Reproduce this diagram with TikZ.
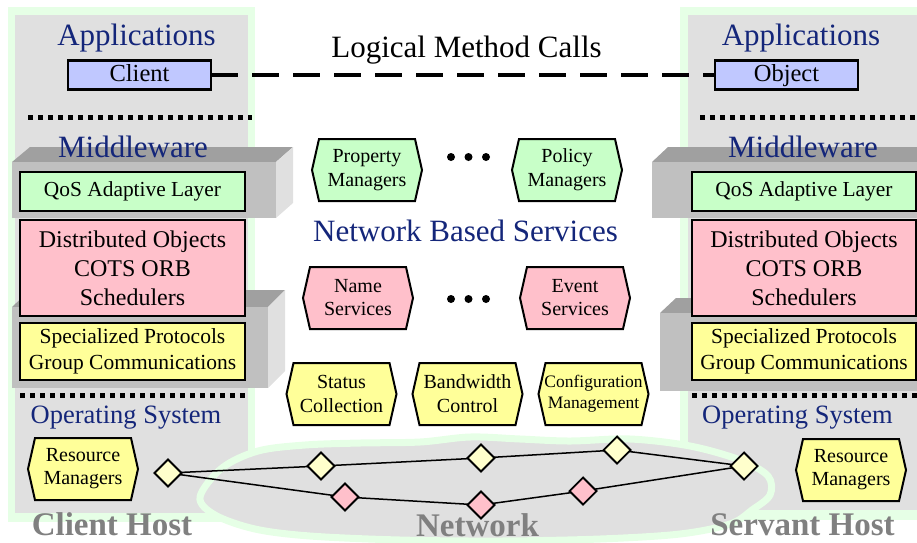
\documentclass[tikz,border=0pt]{standalone}
\usepackage{fontspec}
\setmainfont{Liberation Serif}
\usetikzlibrary{shapes.geometric}

\definecolor{navy}{HTML}{14267A}
\definecolor{panelgreen}{HTML}{E6FFE6}
\definecolor{stipple}{HTML}{E0E0E0}
\definecolor{clientblue}{HTML}{C0C8FF}
\definecolor{qosgreen}{HTML}{C8FFC8}
\definecolor{orbpink}{HTML}{FFC0CB}
\definecolor{protoyellow}{HTML}{FFFF99}
\definecolor{nodeyellow}{HTML}{FFFFCC}
\definecolor{slabtop}{HTML}{A0A0A0}
\definecolor{slabfront}{HTML}{C0C0C0}
\definecolor{slabside}{HTML}{E0E0E0}
\definecolor{hostgray}{HTML}{808080}

\newcommand\fsz[2]{\fontsize{#1}{#2}\selectfont}

% hexagonal service node: name, centre, fill, font, text
\newcommand\hexnode[5]{%
  \node[hexbody] (#1) at (#2) {};
  \filldraw[hexline, fill=#3] (#1.west) -- ([xshift=7pt]#1.north west)
    -- ([xshift=-7pt]#1.north east) -- (#1.east)
    -- ([xshift=-7pt]#1.south east) -- ([xshift=7pt]#1.south west) -- cycle;
  \node[align=center, font=#4] at (#1.center) {#5};}

\begin{document}
\begin{tikzpicture}[x=1pt,y=-1pt,
  every node/.style={inner sep=0pt, outer sep=0pt},
  layerbox/.style={draw=black, line width=2.2pt, align=center},
  appbox/.style={layerbox, fill=clientblue, minimum width=143pt, minimum height=29pt,
    font=\fsz{24.5}{29}, text height=17.5pt, text depth=4.5pt},
  hexbody/.style={minimum width=110pt, minimum height=62pt, inner sep=0pt},
  hexline/.style={draw=black, line width=2pt, line join=miter},
  netnode/.style={diamond, draw=black, line width=1.8pt, minimum width=27pt,
    minimum height=27pt, inner sep=0pt, aspect=1},
  netline/.style={line width=1.5pt},
  dotrule/.style={line width=5pt, dash pattern=on 5pt off 5pt},
  callline/.style={line width=3.5pt, dash pattern=on 27pt off 14pt},
  navylabel/.style={text=navy, anchor=base},
  hostlabel/.style={text=hostgray, anchor=base, font={\bfseries\fsz{33}{33}}},
  dotmark/.style={circle, fill=black, minimum size=8pt, inner sep=0pt},
]
\useasboundingbox (0,0) rectangle (917,542);

% host panels
\fill[panelgreen] (8,7) rectangle (255,522);
\fill[stipple] (15,15) rectangle (248,513);
\fill[panelgreen] (680,7) rectangle (917,520);
\fill[stipple] (688,15) rectangle (917,510);

% network cloud
\draw[panelgreen, line width=7pt, fill=stipple] plot[smooth cycle, tension=0.55] coordinates {
  (200,497) (222,468) (258,451) (305,445) (360,443) (420,442) (470,437)
  (520,439) (570,441) (630,439) (690,446) (740,460) (768,476) (770,495)
  (752,510) (730,524) (680,534) (600,539) (500,541) (400,540) (310,536)
  (255,529) (215,515)};

% middleware slabs, left host
\fill[slabtop] (12,162) -- (30,147) -- (293,147) -- (276,162) -- cycle;
\fill[slabside] (276,162) -- (293,147) -- (293,203) -- (276,218) -- cycle;
\fill[slabfront] (12,162) rectangle (276,218);
\fill[slabtop] (12,307) -- (30,290) -- (285,290) -- (268,307) -- cycle;
\fill[slabside] (268,307) -- (285,290) -- (285,371) -- (268,388) -- cycle;
\fill[slabfront] (12,307) rectangle (268,388);
% middleware slabs, right host
\fill[slabtop] (652,162) -- (668,147) -- (917,147) -- (917,162) -- cycle;
\fill[slabfront] (652,162) rectangle (917,218);
\fill[slabtop] (660,313) -- (676,298) -- (917,298) -- (917,313) -- cycle;
\fill[slabfront] (660,313) rectangle (917,391);

% layer boxes
\node[appbox] (client) at (139.5,75) {Client};
\node[appbox] (object) at (786.5,75) {Object};

\node[layerbox, fill=qosgreen, minimum width=225pt, minimum height=39pt,
  font=\fsz{21.4}{26}] (qosL) at (132.5,191.5) {QoS Adaptive Layer};
\node[layerbox, fill=qosgreen, minimum width=224pt, minimum height=39pt,
  font=\fsz{21.4}{26}] (qosR) at (804,191.5) {QoS Adaptive Layer};

\node[layerbox, fill=orbpink, minimum width=225pt, minimum height=96pt,
  font=\fsz{24}{29}] (orbL) at (132.5,268) {Distributed Objects\\COTS ORB\\Schedulers};
\node[layerbox, fill=orbpink, minimum width=224pt, minimum height=96pt,
  font=\fsz{24}{29}] (orbR) at (804,268) {Distributed Objects\\COTS ORB\\Schedulers};

\node[layerbox, fill=protoyellow, minimum width=225pt, minimum height=57pt,
  font=\fsz{21.5}{26}] (protoL) at (132.5,351.5) {Specialized Protocols\\Group Communications};
\node[layerbox, fill=protoyellow, minimum width=224pt, minimum height=57pt,
  font=\fsz{21.5}{26}] (protoR) at (804,351.5) {Specialized Protocols\\Group Communications};

% layer separators
\draw[dotrule] (28,117) -- (252,117);
\draw[dotrule] (700,117) -- (917,117);
\draw[dotrule] (20,395) -- (245,395);
\draw[dotrule] (692,395) -- (917,395);

% layer titles
\node[navylabel, font=\fsz{31}{31}] (appL) at (136.5,45) {Applications};
\node[navylabel, font=\fsz{31}{31}] (appR) at (801,45) {Applications};
\node[navylabel, font=\fsz{31}{31}] (midL) at (133,157) {Middleware};
\node[navylabel, font=\fsz{31}{31}] (midR) at (803,157) {Middleware};
\node[navylabel, font=\fsz{26.5}{26.5}] (osL) at (126,423) {Operating System};
\node[navylabel, font=\fsz{26.5}{26.5}] (osR) at (797.5,423) {Operating System};
\node[navylabel, font=\fsz{31}{31}] (nbs) at (465.5,241) {Network Based Services};
\node[anchor=base, font=\fsz{31}{31}] (calls) at (466.5,57) {Logical Method Calls};

% network based services
\hexnode{property}{367,170}{qosgreen}{\fsz{20}{24}}{Property\\Managers}
\hexnode{policy}{567,170}{qosgreen}{\fsz{20}{24}}{Policy\\Managers}
\hexnode{naming}{358,298}{orbpink}{\fsz{20}{23}}{Name\\Services}
\hexnode{events}{575,298}{orbpink}{\fsz{20}{23}}{Event\\Services}
\hexnode{status}{341.5,394}{protoyellow}{\fsz{20}{24}}{Status\\Collection}
\hexnode{bandwidth}{467.5,394}{protoyellow}{\fsz{20}{24}}{Bandwidth\\Control}
\hexnode{config}{593.5,394}{protoyellow}{\fsz{17.5}{21}}{Configuration\\Management}
\hexnode{resL}{83,469}{protoyellow}{\fsz{20}{23}}{Resource\\Managers}
\hexnode{resR}{851,470}{protoyellow}{\fsz{20}{23}}{Resource\\Managers}

\node[dotmark] (ua) at (451,157) {};
\node[dotmark] (ub) at (468.5,157) {};
\node[dotmark] (uc) at (486,157) {};
\node[dotmark] (la) at (451,299) {};
\node[dotmark] (lb) at (468.5,299) {};
\node[dotmark] (lc) at (486,299) {};

% network routers and links
\node[netnode, fill=nodeyellow] (h0) at (168,473) {};
\node[netnode, fill=nodeyellow] (y1) at (321,466) {};
\node[netnode, fill=nodeyellow] (y2) at (481,458) {};
\node[netnode, fill=nodeyellow] (y3) at (617,450) {};
\node[netnode, fill=nodeyellow] (h4) at (744,466) {};
\node[netnode, fill=orbpink] (p1) at (345,497) {};
\node[netnode, fill=orbpink] (p2) at (481,505) {};
\node[netnode, fill=orbpink] (p3) at (583,491) {};
\draw[netline] (h0) -- (y1) -- (y2) -- (y3) -- (h4);
\draw[netline] (h0) -- (p1) -- (p2) -- (p3) -- (h4);

% logical method call between client and object
\draw[callline] (client.east) -- (object.west);

% host captions
\node[hostlabel] (clienthost) at (112,535) {Client Host};
\node[hostlabel] (network) at (477.5,536) {Network};
\node[hostlabel] (servanthost) at (802.5,535) {Servant Host};
\end{tikzpicture}
\end{document}
